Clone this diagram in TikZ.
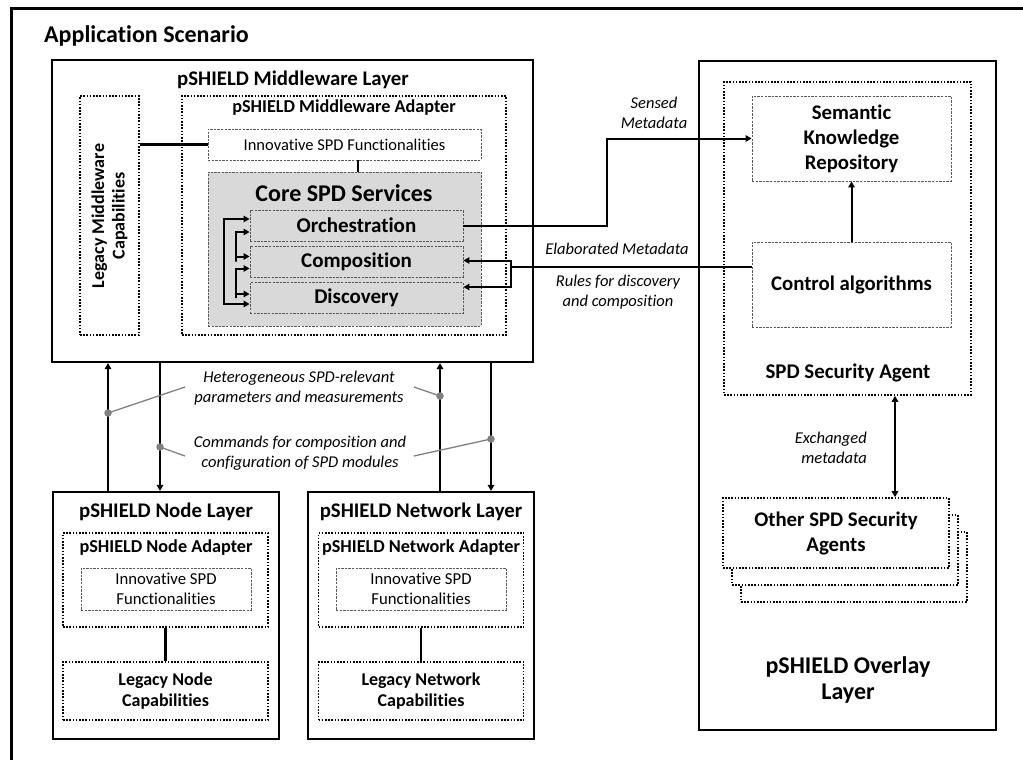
\documentclass[tikz,border=0pt]{standalone}
\usepackage{fontspec}
\setmainfont{Carlito}[Ligatures=NoCommon]
\usetikzlibrary{arrows.meta,calc}
\begin{document}
\begin{tikzpicture}[x=1pt,y=-1pt,
  frame/.style={draw, line width=2.2pt, inner sep=0, fill=white},
  dotbox/.style={draw, line width=1.7pt, dash pattern=on 1.6pt off 1.6pt, inner sep=0, fill=white},
  dashbox/.style={draw=black!65, line width=0.9pt, dash pattern=on 2.4pt off 1.2pt, inner sep=0},
  conn/.style={line width=2pt},
  arr/.style={conn, -{Triangle[length=6pt,width=6.5pt]}},
  darr/.style={conn, {Triangle[length=6pt,width=6.5pt]}-{Triangle[length=6pt,width=6.5pt]}},
  leader/.style={draw=black!50, line width=1.3pt},
  gdot/.style={circle, fill=black!50, inner sep=0, minimum size=7.5pt},
  ttl/.style={font=\bfseries\fontsize{20.8}{24}\selectfont, align=center, inner sep=0},
  sub/.style={font=\bfseries\fontsize{18.2}{21}\selectfont, align=center, inner sep=0},
  bt/.style={font=\bfseries\fontsize{18}{20.5}\selectfont, align=center},
  big/.style={font=\bfseries\fontsize{20.8}{25}\selectfont, align=center},
  lbl/.style={font=\itshape\fontsize{16.5}{20}\selectfont, align=center, inner sep=0},
  reg/.style={font=\fontsize{16.7}{19.5}\selectfont, align=center}
]
\useasboundingbox (0,0) rectangle (1023,760);

% outer frame (cut by the page)
\draw[line width=3pt] (1040,9) -- (11,9) -- (11,780);
\node[anchor=west, font=\bfseries\fontsize{24}{28}\selectfont, inner sep=0] (app) at (44,36) {Application Scenario};

% ---------------- Middleware layer
\node[frame, minimum width=481, minimum height=302] (mw) at (292.5,211) {};
\node[ttl] (mwT) at (293,80) {pSHIELD Middleware Layer};
\node[dotbox, minimum width=59, minimum height=239] (legmw) at (109.5,215.5) {};
\node[bt, rotate=90, inner sep=0] (legmwT) at (109.5,216) {Legacy Middleware\\Capabilities};
\node[dotbox, minimum width=324, minimum height=239] (mwa) at (344,215.5) {};
\node[sub] (mwaT) at (344,108) {pSHIELD Middleware Adapter};
\node[dashbox, fill=white, minimum width=273, minimum height=31, font=\fontsize{16.5}{19}\selectfont] (innov) at (344.5,144.5) {Innovative SPD Functionalities};
\node[dashbox, fill=black!15, minimum width=273, minimum height=154] (core) at (344.5,249) {};
\node[font=\bfseries\fontsize{24}{28}\selectfont, inner sep=0] (coreT) at (344,193) {Core SPD Services};
\node[dashbox, minimum width=213, minimum height=31, font=\bfseries\fontsize{21}{24}\selectfont] (orch) at (356.5,225.5) {Orchestration};
\node[dashbox, minimum width=213, minimum height=31, font=\bfseries\fontsize{21}{24}\selectfont] (comp) at (356.5,261.5) {Composition};
\node[dashbox, minimum width=213, minimum height=31, font=\bfseries\fontsize{21}{24}\selectfont] (disc) at (356.5,298) {Discovery};

\draw[line width=2.6pt] (innov.west) -- (innov.west -| legmw.east);
\draw[line width=2.6pt] ([xshift=13.5pt]innov.south) -- ([xshift=13.5pt]core.north);

% loops inside core
\coordinate (lo) at (224,0);
\coordinate (li) at (236,0);
\draw[darr] ([yshift=6.5pt]orch.west) -| (lo |- disc.west) |- ([yshift=-6pt]disc.west);
\draw[darr] ([yshift=-6.5pt]orch.west) -| (li |- comp.west) |- ([yshift=5pt]comp.west);
\draw[darr] ([yshift=-7pt]comp.west) -| (li |- disc.west) |- ([yshift=4pt]disc.west);

% ---------------- Overlay layer
\node[frame, minimum width=297, minimum height=669] (ovl) at (847.5,395.5) {};
\node[font=\bfseries\fontsize{24}{26}\selectfont, align=center, inner sep=0] (ovlT) at (848,680) {pSHIELD Overlay\\Layer};
\node[dotbox, minimum width=247, minimum height=313] (agent) at (847.5,238.5) {};
\node[font=\bfseries\fontsize{20.9}{24}\selectfont, inner sep=0] (agentT) at (848,373) {SPD Security Agent};
\node[dashbox, fill=white, minimum width=199, minimum height=85, big] (sem) at (851.5,138.5) {Semantic\\Knowledge\\Repository};
\node[dashbox, fill=white, minimum width=199, minimum height=85, big] (ctrl) at (851.5,284.5) {Control algorithms};
\node[dotbox, minimum width=226, minimum height=70] (oth3) at (854,567) {};
\node[dotbox, minimum width=226, minimum height=70] (oth2) at (845,550) {};
\node[dotbox, minimum width=226, minimum height=70, big] (oth1) at (836,533) {Other SPD Security\\Agents};

\draw[arr] (ctrl.north) -- (sem.south);
\draw[darr] ([xshift=47.5pt]agent.south) -- ([xshift=47.5pt]agent.south |- oth1.north);
\node[lbl, align=right, anchor=east] (exT) at (867,448) {Exchanged\\metadata};

% connections middleware <-> overlay
\draw[arr] (orch.east) -- ++(144,0) |- (sem.west);
\node[lbl] (senT) at (654,113) {Sensed\\Metadata};
\coordinate (fk) at (511,267);
\draw[line width=2.8pt] (ctrl.west |- fk) -- (fk);
\draw[arr] (fk) |- ([yshift=1pt]comp.east);
\draw[arr] (fk) |- ([yshift=11pt]disc.east);
\node[lbl] (elT) at (617,249) {Elaborated Metadata};
\node[lbl] (ruT) at (618,292) {Rules for discovery\\and composition};

% ---------------- Node layer
\node[frame, minimum width=226, minimum height=247] (nodeL) at (166,615.5) {};
\node[ttl] (nodeT) at (166,512) {pSHIELD Node Layer};
\node[dotbox, minimum width=205, minimum height=94] (nodeA) at (165.5,580) {};
\node[sub] (nodeAT) at (166,548) {pSHIELD Node Adapter};
\node[dashbox, minimum width=170, minimum height=42, reg] (nodeI) at (166,589) {Innovative SPD\\Functionalities};
\node[dotbox, minimum width=205, minimum height=58, bt] (nodeLeg) at (165.5,691) {Legacy Node\\Capabilities};
\draw[line width=2.6pt] (nodeA.south) -- (nodeLeg.north);

% ---------------- Network layer
\node[frame, minimum width=226, minimum height=247] (netL) at (421,615.5) {};
\node[ttl] (netT) at (421,512) {pSHIELD Network Layer};
\node[dotbox, minimum width=205, minimum height=94] (netA) at (421,580) {};
\node[sub] (netAT) at (421,548) {pSHIELD Network Adapter};
\node[dashbox, minimum width=170, minimum height=42, reg] (netI) at (421,589) {Innovative SPD\\Functionalities};
\node[dotbox, minimum width=205, minimum height=58, bt] (netLeg) at (421,691) {Legacy Network\\Capabilities};
\draw[line width=2.6pt] (netA.south) -- (netLeg.north);

% vertical arrows between layers
\draw[arr] ([xshift=-58pt]nodeL.north) -- ([xshift=-58pt]nodeL.north |- mw.south);
\draw[arr] ([xshift=-6pt]nodeL.north |- mw.south) -- ([xshift=-6pt]nodeL.north);
\draw[arr] ([xshift=19pt]netL.north) -- ([xshift=19pt]netL.north |- mw.south);
\draw[arr] ([xshift=70pt]netL.north |- mw.south) -- ([xshift=70pt]netL.north);

\node[lbl] (hetT) at (299,388) {Heterogeneous SPD-relevant\\parameters and measurements};
\node[lbl] (cmdT) at (300,453) {Commands for composition and\\configuration of SPD modules};
\coordinate (h1) at (185,387);
\coordinate (h2) at (414,387);
\coordinate (c1) at (185,456);
\coordinate (c2) at (414,456);
\node[gdot] (d1) at (108,413) {};
\node[gdot] (d2) at (440,396) {};
\node[gdot] (d3) at (160,447) {};
\node[gdot] (d4) at (491,439) {};
\draw[leader] (d1.center) -- (h1);
\draw[leader] (h2) -- (d2.center);
\draw[leader] (d3.center) -- (c1);
\draw[leader] (c2) -- (d4.center);
\end{tikzpicture}
\end{document}
